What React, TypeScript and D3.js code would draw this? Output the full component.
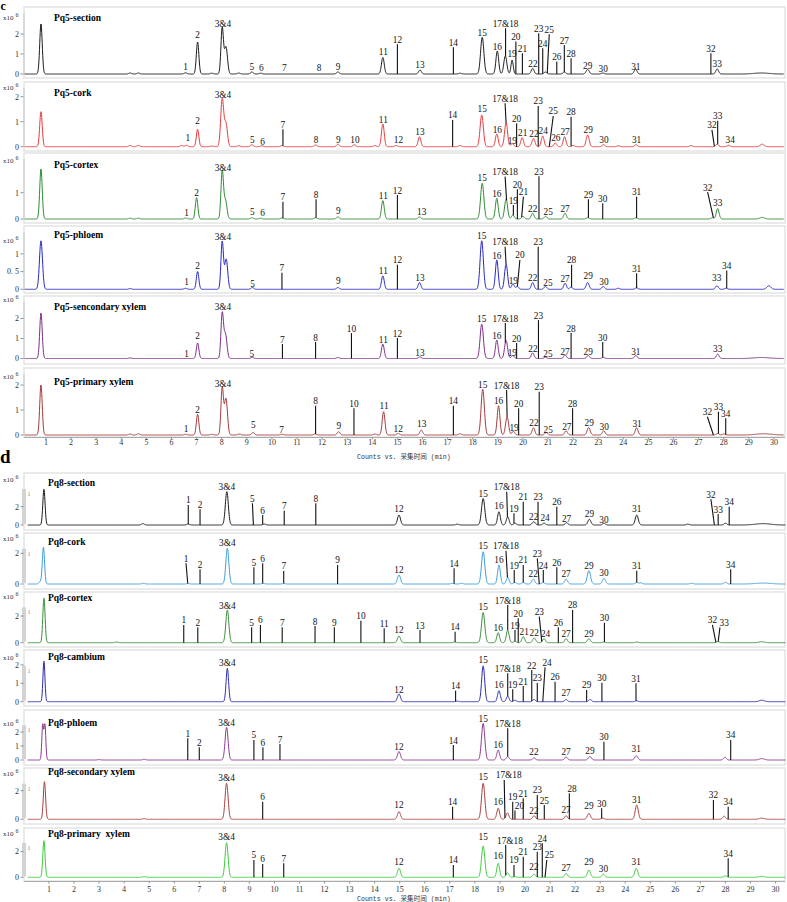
import React from "react";
import * as d3 from "d3";

// ---------- DATA (retention time in min, intensity in x10^6 counts) ----------
// peaks: [time, height, sigma?]; marks: [label, time, top, hasLine, timeBottom?, timeLabel?]
const c1Peaks = [[0.8,2.5,0.05],[4.35,0.05],[4.68,0.05],[6.56,0.06],[7.04,1.6,0.05],[7.6,0.04],[8.02,2.3,0.05],[8.17,1.35,0.06],[8.68,0.05],[9.2,0.1],[9.55,0.04],[12.63,0.1],[14.42,0.83],[15.9,0.2],[17.5,0.04],[18.38,1.83,0.065],[18.98,1.15],[19.3,0.9,0.06],[19.57,0.7,0.045],[20.39,0.28],[20.9,0.1],[21.65,0.1],[22.58,0.23,0.06],[23.18,0.05],[24.49,0.25],[27.74,0.25],[29.5,0.05,0.3]];
const c1Marks = [["1",6.56,0.2,0],["2",7.04,1.81,0],["3&4",8.05,2.36,0],["5",9.2,0.2,0],["6",9.58,0.15,0],["7",10.5,0.17,0],["8",11.88,0.15,0],["9",12.64,0.18,0],["11",14.44,0.94,0],["12",15.0,1.49,1],["13",15.9,0.28,0],["14",17.23,1.34,1],["15",18.38,1.89,0],["16",18.98,1.19,0],["17&18",19.31,2.29,1],["19",19.57,0.86,0],["20",19.72,1.62,1],["21",19.98,1.04,1],["22",20.4,0.36,0],["23",20.63,2.04,1],["24",20.79,1.29,1],["25",21.05,1.99,1,20.97],["26",21.35,0.62,1],["27",21.65,1.45,1],["28",21.92,0.79,1],["29",22.58,0.23,0],["30",23.2,0.11,0],["31",24.5,0.19,0],["32",27.49,1.04,1],["33",27.74,0.36,0]];

const c2Peaks = [[0.8,1.4,0.05],[4.35,0.05],[4.68,0.05],[6.4,0.05],[6.6,0.06],[7.04,0.7,0.05],[7.6,0.03],[8.02,1.9,0.06],[8.17,0.9,0.06],[8.68,0.04],[9.2,0.08],[9.6,0.04],[10.4,0.05],[11.74,0.07],[12.63,0.1],[13.29,0.08],[14.1,0.05],[14.42,0.91],[14.95,0.05],[15.88,0.4],[17.5,0.05],[18.36,1.27,0.065],[18.96,0.51],[19.33,0.96,0.06],[19.58,0.12],[19.97,0.36],[20.42,0.33,0.06],[20.79,0.43],[21.29,0.15],[21.66,0.4],[22.0,0.05],[22.58,0.47,0.06],[23.21,0.08],[23.8,0.04],[24.51,0.08],[26.7,0.05],[27.74,0.1],[28.2,0.06],[29.53,0.1,0.08]];
const c2Marks = [["1",6.65,0.22,0],["2",7.04,0.9,0],["3&4",8.05,1.96,0],["5",9.22,0.16,0],["6",9.63,0.06,0],["7",10.44,0.7,1],["8",11.76,0.13,0],["9",12.65,0.16,0],["10",13.31,0.13,0],["11",14.44,0.96,0],["12",15.04,0.16,0],["13",15.9,0.46,0],["14",17.2,1.07,1],["15",18.38,1.37,0],["16",18.98,0.55,0],["17&18",19.29,1.74,1,19.33],["19",19.58,0.09,0],["20",19.75,0.94,1],["21",19.99,0.42,0],["22",20.44,0.4,0],["23",20.61,1.63,1],["24",20.81,0.5,0],["25",21.21,1.23,1,21.05],["26",21.31,0.24,0],["27",21.68,0.47,0],["28",21.92,1.2,1],["29",22.6,0.55,0],["30",23.23,0.13,0],["31",24.53,0.13,0],["32",27.53,0.67,1,27.63],["33",27.76,1.04,1],["34",28.26,0.13,0]];

const c3Peaks = [[0.8,1.9,0.05],[4.35,0.03],[4.68,0.03],[6.56,0.04],[7.0,0.81,0.05],[8.02,1.8,0.05],[8.15,0.7,0.06],[9.2,0.05],[9.55,0.03],[10.4,0.04],[11.74,0.05],[12.63,0.08],[14.42,0.7],[15.88,0.08],[18.38,1.36,0.065],[18.96,0.79],[19.33,0.75,0.06],[19.6,0.15],[20.0,0.1],[20.39,0.22],[20.9,0.1],[21.68,0.22],[22.58,0.05],[24.5,0.04],[27.55,0.05],[27.76,0.4],[29.53,0.06,0.1]];
const c3Marks = [["1",6.6,0.12,0],["2",7.0,0.88,0],["3&4",8.05,1.82,0],["5",9.22,0.17,0],["6",9.63,0.13,0],["7",10.44,0.66,1],["8",11.76,0.75,1],["9",12.65,0.18,0],["11",14.44,0.76,0],["12",15.0,0.91,1],["13",15.97,0.17,0],["15",18.38,1.43,0],["16",18.96,0.84,0],["17&18",19.29,1.61,1,19.35],["19",19.62,0.53,1],["20",19.78,1.13,1],["21",20.02,0.85,1,19.95],["22",20.39,0.27,0],["23",20.64,1.63,1],["25",21.01,0.17,0],["27",21.68,0.27,0],["29",22.61,0.75,1],["30",23.18,0.6,1],["31",24.53,0.85,1],["32",27.36,1.02,1,27.59],["33",27.76,0.49,0]];

const c4Peaks = [[0.8,1.37,0.06],[4.35,0.02],[6.56,0.03],[7.04,0.5,0.05],[8.02,1.34,0.05],[8.18,0.85,0.06],[9.22,0.05],[12.63,0.05],[14.42,0.38],[15.88,0.19],[18.36,1.37,0.065],[18.96,0.83],[19.33,0.71,0.06],[19.6,0.15],[19.78,0.08],[20.39,0.19],[20.9,0.08],[21.68,0.17],[21.92,0.06],[22.58,0.19,0.06],[23.2,0.08],[23.8,0.03],[24.53,0.04],[27.73,0.1],[28.1,0.03],[29.8,0.1,0.08]];
const c4Marks = [["1",6.6,0.12,0],["2",7.04,0.56,0],["3&4",8.05,1.38,0],["5",9.23,0.07,0],["7",10.4,0.47,1],["9",12.65,0.14,0],["11",14.44,0.42,0],["12",15.0,0.69,1],["13",15.9,0.23,0],["15",18.36,1.42,0],["16",18.96,0.86,0],["17&18",19.29,1.2,1,19.33],["19",19.62,0.14,0],["20",19.88,0.83,1,19.78],["22",20.39,0.23,0],["23",20.61,1.2,1],["25",21.0,0.09,0],["27",21.68,0.2,0],["28",21.94,0.69,1],["29",22.6,0.28,0],["30",23.23,0.11,0],["31",24.53,0.45,1],["33",27.72,0.23,0],["34",28.12,0.53,1]];

const c5Peaks = [[0.8,2.27,0.05],[4.35,0.03],[7.04,0.78,0.05],[8.02,2.22,0.05],[8.15,1.2,0.06],[9.22,0.06],[12.63,0.05],[14.42,0.72],[15.9,0.08],[18.36,1.72,0.065],[18.96,0.92],[19.33,0.9,0.06],[19.6,0.15],[20.39,0.28],[20.9,0.06],[21.68,0.18],[22.6,0.15],[23.2,0.06],[24.5,0.15],[27.76,0.22],[29.5,0.05,0.3]];
const c5Marks = [["1",6.6,0.1,0],["2",7.04,1.0,0],["3&4",8.05,2.45,0],["5",9.2,0.1,0],["7",10.42,0.72,1],["8",11.74,0.82,1],["10",13.17,1.27,1],["11",14.44,0.8,0],["12",15.0,1.02,1],["13",15.9,0.12,0],["15",18.36,1.85,0],["16",18.96,0.98,0],["17&18",19.3,1.77,1],["19",19.58,0.15,0],["20",19.75,0.77,1],["22",20.4,0.32,0],["23",20.62,1.92,1],["25",21.0,0.08,0],["27",21.68,0.2,0],["28",21.92,1.27,1],["29",22.6,0.18,0],["30",23.18,0.82,1],["31",24.5,0.18,0],["33",27.76,0.35,0]];

const c6Peaks = [[0.8,2.0,0.05],[4.35,0.04],[4.68,0.05],[6.56,0.03],[7.04,0.83,0.05],[7.6,0.03],[8.02,1.87,0.05],[8.17,1.45,0.06],[8.7,0.04],[9.25,0.1],[10.4,0.03],[11.72,0.04],[12.66,0.13],[14.1,0.04],[14.45,0.93],[15.03,0.06],[15.95,0.2],[17.5,0.05],[18.4,1.83,0.065],[19.03,1.17],[19.37,0.73,0.06],[19.62,0.15],[20.42,0.29],[20.93,0.1],[21.72,0.17],[22.62,0.3,0.06],[23.22,0.17],[24.53,0.29],[27.76,0.06],[28.0,0.04],[29.6,0.05,0.3]];
const c6Marks = [["1",6.58,0.13,0],["2",7.04,0.9,0],["3&4",8.05,1.93,0],["5",9.26,0.3,0],["7",10.39,0.1,0],["8",11.74,1.17,1],["9",12.67,0.26,0],["10",13.27,1.07,1],["11",14.47,1.06,0],["12",15.03,0.13,0],["13",15.97,0.33,0],["14",17.23,1.17,1],["15",18.4,1.89,0],["16",19.03,1.23,0],["17&18",19.35,1.8,1,19.37],["19",19.65,0.15,0],["20",19.83,1.07,1],["22",20.44,0.35,0],["23",20.65,1.73,1],["25",21.01,0.09,0],["27",21.75,0.19,0],["28",21.98,1.07,1],["29",22.64,0.35,0],["30",23.24,0.22,0],["31",24.55,0.33,0],["32",27.35,0.73,1,27.59],["33",27.79,0.93,1],["34",28.08,0.67,1]];

const d1Peaks = [[0.8,3.9,0.045],[4.75,0.15],[6.56,0.1],[8.1,3.64,0.06],[9.6,0.1],[14.97,1.09,0.06],[17.3,0.1],[18.33,2.9,0.065],[18.96,1.46],[19.31,0.9],[19.6,0.2],[20.35,0.36,0.06],[20.76,0.2],[21.66,0.25],[22.57,0.62,0.06],[23.15,0.2],[24.46,1.09,0.06],[26.5,0.1],[28.0,0.2],[29.5,0.15,0.3]];
const d1Marks = [["1",6.56,2.19,1],["2",7.03,1.72,1],["3&4",8.1,3.8,0],["5",9.12,2.37,1,9.16],["6",9.53,1.09,1],["7",10.39,1.56,1],["8",11.65,2.37,1],["12",14.97,1.37,0],["15",18.33,3.08,0],["16",18.96,1.73,0],["17&18",19.27,3.64,1,19.3],["19",19.56,1.28,1],["21",19.93,2.55,1],["22",20.35,0.6,0],["23",20.52,2.55,1],["24",20.8,0.42,0],["26",21.27,2.0,1],["27",21.66,0.35,0],["29",22.57,0.9,0],["30",23.15,0.24,0],["31",24.46,1.4,0],["32",27.42,2.81,1,27.56],["33",27.71,1.2,1],["34",28.15,2.0,1]];

const d2Peaks = [[0.65,0.15,0.05],[0.78,2.39,0.045],[4.77,0.05],[6.56,0.03],[8.12,2.32,0.06],[9.55,0.04],[10.37,0.03],[14.97,0.59,0.06],[17.1,0.04],[17.46,0.05],[18.33,2.1,0.065],[18.96,1.24],[19.31,0.44],[19.6,0.1],[19.93,0.1],[20.33,0.31,0.06],[20.73,0.1],[21.64,0.31,0.06],[22.55,0.87,0.065],[23.15,0.37,0.06],[24.46,0.1],[24.62,0.08],[26.65,0.05],[28.0,0.12],[29.5,0.06,0.3]];
const d2Marks = [["1",6.47,1.35,1,6.54],["2",7.03,0.96,1],["3&4",8.12,2.45,0],["5",9.18,1.09,1],["6",9.53,1.35,1],["7",10.37,0.85,1],["9",12.52,1.24,1],["12",14.97,0.73,0],["14",17.17,1.02,1],["15",18.33,2.25,0],["16",18.96,1.4,0],["17&18",19.24,2.17,1,19.3],["19",19.57,0.91,1],["21",19.93,1.24,1],["22",20.33,0.45,0],["23",20.49,1.67,1,20.57],["24",20.73,0.91,1],["26",21.27,1.09,1],["27",21.64,0.45,0],["29",22.55,1.0,0],["30",23.15,0.5,0],["31",24.46,0.87,1],["34",28.21,0.96,1]];

const d3Peaks = [[0.8,3.33,0.045],[3.7,0.05],[8.12,2.45,0.06],[14.97,0.5,0.06],[17.2,0.05],[18.33,2.25,0.065],[18.93,0.75],[19.31,0.95],[19.6,0.1],[19.93,0.45],[20.37,0.35,0.06],[20.76,0.3],[21.64,0.3],[22.55,0.3,0.06],[23.15,0.05],[24.46,0.05],[27.7,0.08],[29.45,0.08,0.1]];
const d3Marks = [["1",6.38,1.33,1],["2",6.94,1.15,1],["3&4",8.12,2.56,0],["5",9.09,1.15,1],["6",9.44,1.33,1],["7",10.31,1.15,1],["8",11.62,1.25,1],["9",12.39,1.15,1],["10",13.45,1.65,1],["11",14.38,1.08,1],["12",14.97,0.74,0],["13",15.81,0.95,1],["14",17.21,0.82,1],["15",18.33,2.43,0],["16",18.93,0.86,0],["17&18",19.31,2.82,1],["19",19.6,0.95,1],["20",19.73,1.83,1],["21",19.97,0.55,0],["22",20.37,0.5,0],["23",20.57,1.95,1,20.67],["24",20.82,0.45,0],["26",21.33,1.15,1],["27",21.64,0.45,0],["28",21.9,2.45,1],["29",22.55,0.45,0],["30",23.17,1.5,1],["32",27.48,1.33,1,27.62],["33",27.78,1.15,1,27.71,27.95]];

const d4Peaks = [[0.8,2.2,0.04],[8.12,1.81,0.05],[14.97,0.42,0.06],[17.3,0.03],[18.33,1.95,0.06],[18.96,0.6],[19.31,0.3],[19.6,0.08],[20.36,0.12],[21.64,0.12],[22.6,0.12],[24.45,0.05],[29.45,0.08,0.1]];
const d4Marks = [["3&4",8.12,1.93,0],["12",14.97,0.48,0],["14",17.23,0.6,1],["15",18.33,2.11,0],["16",18.96,0.72,0],["17&18",19.31,1.54,1],["19",19.51,0.67,1],["21",19.93,0.85,1],["22",20.27,1.72,1],["23",20.49,1.02,1],["24",20.8,1.87,1,20.71,20.88],["26",21.2,1.09,1],["27",21.64,0.3,0],["29",22.46,0.64,1],["30",23.07,1.03,1],["31",24.43,1.0,1]];

const d5Peaks = [[0.75,2.5,0.035],[0.84,2.5,0.035],[3.0,0.03],[4.8,0.05],[8.09,2.33,0.06],[14.97,0.6,0.06],[18.33,2.62,0.065],[18.93,0.71],[19.31,0.25],[20.36,0.15],[21.64,0.22],[22.59,0.25,0.06],[24.44,0.3,0.06],[27.98,0.2],[29.45,0.1,0.1]];
const d5Marks = [["1",6.54,1.55,1],["2",7.0,0.91,1],["3&4",8.09,2.41,0],["5",9.18,1.43,1],["6",9.54,0.91,1],["7",10.22,1.14,1],["12",14.97,0.75,0],["14",17.14,1.07,1],["15",18.33,2.7,0],["16",18.93,0.85,0],["17&18",19.31,2.26,1],["22",20.36,0.34,0],["27",21.64,0.39,0],["29",22.59,0.4,0],["30",23.15,1.31,1],["31",24.44,0.59,0],["34",28.21,1.43,1]];

const d6Peaks = [[0.82,2.63,0.045],[4.8,0.05],[8.09,2.52,0.06],[14.97,0.53,0.06],[18.33,2.52,0.065],[18.93,0.77],[19.3,0.45],[20.36,0.25],[21.64,0.25],[22.55,0.42,0.06],[23.1,0.08],[24.46,1.0,0.06],[27.95,0.22],[29.45,0.08,0.1]];
const d6Marks = [["3&4",8.09,2.71,0],["6",9.53,1.23,1],["12",14.97,0.76,0],["14",17.11,0.88,1],["15",18.33,2.78,0],["16",18.93,0.99,0],["17&18",19.17,2.75,1,19.2,19.35],["19",19.51,1.23,1],["20",19.6,0.62,1,19.6,19.78],["21",19.93,1.47,1],["22",20.36,0.35,0],["23",20.49,1.7,1],["25",20.77,1.0,1],["27",21.64,0.45,0],["28",21.77,1.82,1,21.77,21.88],["29",22.55,0.69,0],["30",23.06,0.77,1],["31",24.46,1.15,0],["32",27.52,1.35,1],["34",28.11,0.88,1]];

const d7Peaks = [[0.8,2.85,0.045],[4.8,0.05],[8.09,2.69,0.06],[14.97,0.7,0.06],[18.33,2.44,0.065],[18.93,1.09],[19.3,0.35],[19.6,0.05],[20.36,0.25],[21.64,0.3],[22.55,0.57,0.06],[23.13,0.25],[24.44,0.7,0.06],[28.0,0.12],[29.45,0.08,0.1]];
const d7Marks = [["3&4",8.09,2.89,0],["5",9.18,1.35,1],["6",9.53,1.04,1],["7",10.37,1.09,1],["12",14.97,0.94,0],["14",17.14,0.96,1],["15",18.33,2.94,0],["16",18.93,1.39,0],["17&18",19.23,2.51,1,19.23,19.4],["19",19.56,0.96,1],["21",19.93,1.6,1],["22",20.36,0.55,0],["23",20.49,1.99,1],["24",20.69,2.65,1],["25",20.87,1.35,1,20.8,20.97],["27",21.64,0.51,0],["29",22.55,0.94,0],["30",23.13,0.45,0],["31",24.44,0.95,0],["34",28.11,1.48,1]];

const panelTitles = ["Pq5-section","Pq5-cork","Pq5-cortex","Pq5-phloem","Pq5-sencondary xylem","Pq5-primary xylem","Pq8-section","Pq8-cork","Pq8-cortex","Pq8-cambium","Pq8-phloem","Pq8-secondary xylem","Pq8-primary  xylem"];
const panelGroups = ["c","c","c","c","c","c","d","d","d","d","d","d","d"];
const yTicks = [[0,1,2],[0,1,2],[0,1],[0,0.5,1],[0,1,2],[0,1,2],[0,2],[0,2],[0,2],[0,1,2],[0,1,2],[0,2],[0,2]];
const xTicks = d3.range(1, 31);
const allPeaks = [c1Peaks,c2Peaks,c3Peaks,c4Peaks,c5Peaks,c6Peaks,d1Peaks,d2Peaks,d3Peaks,d4Peaks,d5Peaks,d6Peaks,d7Peaks];
const allMarks = [c1Marks,c2Marks,c3Marks,c4Marks,c5Marks,c6Marks,d1Marks,d2Marks,d3Marks,d4Marks,d5Marks,d6Marks,d7Marks];

// ---------- LAYOUT / STYLE ----------
const colors = ["#1c1c1c","#e8393c","#2f8a35","#2626c4","#7d2c88","#a53a3c","#1c1c1c","#3e9ddf","#3b8d3b","#2b2bb2","#8a3a8e","#a8403f","#3bcc3b"];
// [frameTop, frameBottom, baseline, pxPerUnit, titleY, expY]
const layout = [
  [7,78,74,20,18,17],[82,151,146.7,25,93,87],[153,223,219,26.3,165,160],[226,293,289.3,35.4,235,240],
  [296,364,358.5,20,307,299],[368,437,435,25,381.7,376],
  [473,530,525,9.15,483,479],[533,589,584,15.35,541.7,538.3],[592,647,642.7,13.35,598,596.7],
  [650,706,701.7,18.4,656.7,657],[710,765,760,14,722.7,723.3],[768,824,819.3,14.3,772,773.3],[828,881,877.3,12.85,833.3,833.3]
];
const SERIF = "'Liberation Serif','Times New Roman',serif";

const xc = d3.scaleLinear().domain([0, 30.4]).range([20.9, 20.9 + 30.4 * 25.1]);
const xd = d3.scaleLinear().domain([0, 30.4]).range([23.9, 23.9 + 30.4 * 25.055]);

function val(peaks: number[][], t: number) {
  let s = 0;
  for (const p of peaks) {
    const w = p[2] ?? 0.055;
    const z = (t - p[0]) / w;
    if (Math.abs(z) < 8) s += p[1] * Math.exp(-0.5 * z * z);
  }
  return s;
}

const fmtTick = (v: number) => (Number.isInteger(v) ? String(v) : String(v).replace(".", ". "));

function Panel({ i }: { i: number }) {
  const [fTop, fBot, base, k, titleY, expY] = layout[i];
  const grp = panelGroups[i];
  const x = grp === "c" ? xc : xd;
  const y = d3.scaleLinear().domain([0, 1]).range([base, base - k]);
  const peaks = allPeaks[i];
  const ts = d3.range(0.15, 30.4, 0.01);
  const path = d3.line<number>().x((t) => x(t)).y((t) => y(val(peaks, t)))(ts) || "";
  const clipId = `clip${i}`;
  const isD = grp === "d";
  return (
    <g>
      <rect x={24} y={fTop} width={761} height={fBot - fTop} fill="none" stroke="#e4e4e4" strokeWidth={1.5} />
      <defs>
        <clipPath id={clipId}>
          <rect x={24} y={fTop} width={762} height={fBot - fTop + 3} />
        </clipPath>
      </defs>
      {isD ? (
        <g>
          <rect x={22} y={fTop + (fBot - fTop) * 0.28} width={4} height={base - 1 - (fTop + (fBot - fTop) * 0.28)} fill="#d3d3d3" />
          <text x={27.5} y={fTop + (fBot - fTop) * 0.28 + 7} fontSize={6} fill="#888" fontFamily={SERIF}>1</text>
        </g>
      ) : (
        <line x1={24} x2={24} y1={fTop + 6} y2={base} stroke="#c8c8c8" />
      )}
      {yTicks[i].map((v) => (
        <g key={v}>
          <line x1={20.5} x2={23.5} y1={y(v)} y2={y(v)} stroke="#777" strokeWidth={0.8} />
          <text x={19} y={y(v) + 2.8} fontSize={8} textAnchor="end" fill="#333" fontFamily={SERIF}>{fmtTick(v)}</text>
        </g>
      ))}
      <text x={3} y={expY + 2.5} fontSize={7} fill="#333" fontFamily={SERIF}>
        x10<tspan dx={2} dy={-3} fontSize={6}>6</tspan>
      </text>
      <text x={isD ? 48 : 54} y={titleY + 3.3} fontSize={9.5} fontWeight="bold" fontFamily={SERIF} style={{ whiteSpace: "pre" }}>
        {panelTitles[i]}
      </text>
      <path d={path} fill="none" stroke={colors[i]} strokeWidth={1} clipPath={`url(#${clipId})`} />
      {allMarks[i].map((m, j) => {
        const [lab, t, top, hasLine, tb, tl] = m as [string, number, number, number, number?, number?];
        const tB = tb ?? t;
        const yt = y(top);
        return (
          <g key={j}>
            {hasLine ? (
              <line x1={x(t)} y1={yt} x2={x(tB)} y2={y(val(peaks, tB))} stroke="#111" strokeWidth={1.1} />
            ) : null}
            <text x={x(tl ?? t)} y={hasLine ? yt - 1.5 : yt} fontSize={9.3} textAnchor="middle" fill="#111" fontFamily={SERIF}>
              {lab}
            </text>
          </g>
        );
      })}
    </g>
  );
}

function XAxis({ grp, yAxis, yLab, yTitle }: { grp: string; yAxis: number; yLab: number; yTitle: number }) {
  const x = grp === "c" ? xc : xd;
  return (
    <g>
      <line x1={24} x2={785} y1={yAxis} y2={yAxis} stroke="#999" strokeWidth={0.8} />
      {xTicks.map((t) => (
        <g key={t}>
          <line x1={x(t)} x2={x(t)} y1={yAxis} y2={yAxis + 2} stroke="#777" strokeWidth={0.8} />
          <text x={x(t)} y={yLab} fontSize={8} textAnchor="middle" fill="#333" fontFamily={SERIF}>{t}</text>
        </g>
      ))}
      <text x={357} y={yTitle} fontSize={6.6} fill="#333" fontFamily="'Liberation Mono',monospace">
        Counts vs. <tspan fontFamily="'Noto Sans CJK SC'">采集时间</tspan> (min)
      </text>
    </g>
  );
}

export default function App() {
  return (
    <svg width={787} height={902} style={{ position: "absolute", left: 0, top: 0, background: "#fff" }}>
      <rect width={787} height={902} fill="#fff" />
      <text x={0.5} y={10} fontSize={12} fontWeight="bold" fontFamily={SERIF}>c</text>
      <text x={0} y={463} fontSize={19} fontWeight="bold" fontFamily={SERIF}>d</text>
      {panelTitles.map((_, i) => (
        <Panel key={i} i={i} />
      ))}
      <XAxis grp="c" yAxis={437.5} yLab={444.5} yTitle={458.5} />
      <XAxis grp="d" yAxis={881.5} yLab={891.5} yTitle={900.5} />
    </svg>
  );
}
